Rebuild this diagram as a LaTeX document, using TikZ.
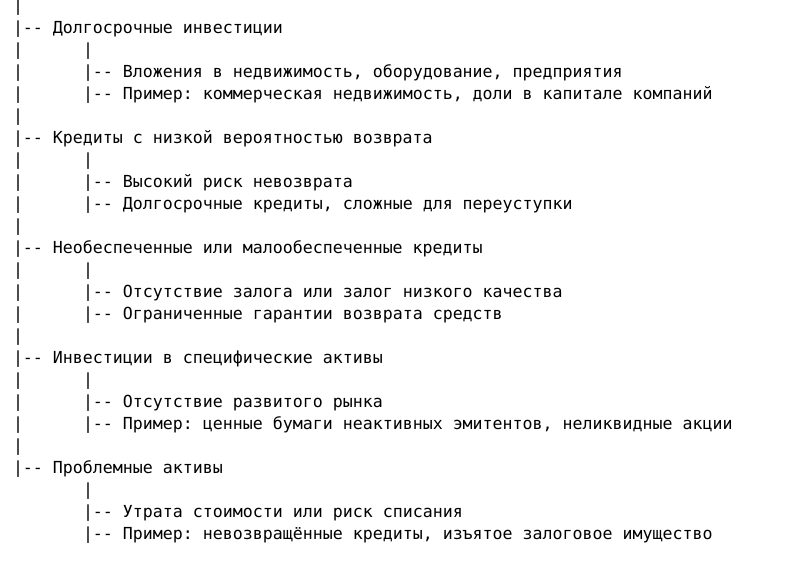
\documentclass[tikz,border=0pt]{standalone}
\usepackage{fontspec}
\setmonofont{DejaVu Sans Mono}
\begin{document}
\begin{tikzpicture}[x=1pt,y=-1pt,
  txt/.style={inner sep=0pt, outer sep=0pt, anchor=base west,
    font=\ttfamily\fontsize{16.6}{22}\selectfont\frenchspacing, text=black}]
\fill[white] (0,0) rectangle (797,567);
\useasboundingbox (0,0) rectangle (797,567);
% main vertical bars (column 0)
\foreach \i in {0,2,3,4,5,7,8,9,10,12,13,14,15,17,18,19,20}
  \node[txt] (m\i) at (13,{11.5+22*\i}) {|};
% sub vertical bars (column 7)
\foreach \i in {2,7,12,17,22}
  \node[txt] (s\i) at (83,{11.5+22*\i}) {|};
% headers
\node[txt] (h1)  at (13,{11.5+22*1})  {|-- Долгосрочные инвестиции};
\node[txt] (h6)  at (13,{11.5+22*6})  {|-- Кредиты с низкой вероятностью возврата};
\node[txt] (h11) at (13,{11.5+22*11}) {|-- Необеспеченные или малообеспеченные кредиты};
\node[txt] (h16) at (13,{11.5+22*16}) {|-- Инвестиции в специфические активы};
\node[txt] (h21) at (13,{11.5+22*21}) {|-- Проблемные активы};
% sub items
\node[txt] (i3)  at (83,{11.5+22*3})  {|-- Вложения в недвижимость, оборудование, предприятия};
\node[txt] (i4)  at (83,{11.5+22*4})  {|-- Пример: коммерческая недвижимость, доли в капитале компаний};
\node[txt] (i8)  at (83,{11.5+22*8})  {|-- Высокий риск невозврата};
\node[txt] (i9)  at (83,{11.5+22*9})  {|-- Долгосрочные кредиты, сложные для переуступки};
\node[txt] (i13) at (83,{11.5+22*13}) {|-- Отсутствие залога или залог низкого качества};
\node[txt] (i14) at (83,{11.5+22*14}) {|-- Ограниченные гарантии возврата средств};
\node[txt] (i18) at (83,{11.5+22*18}) {|-- Отсутствие развитого рынка};
\node[txt] (i19) at (83,{11.5+22*19}) {|-- Пример: ценные бумаги неактивных эмитентов, неликвидные акции};
\node[txt] (i23) at (83,{11.5+22*23}) {|-- Утрата стоимости или риск списания};
\node[txt] (i24) at (83,{11.5+22*24}) {|-- Пример: невозвращённые кредиты, изъятое залоговое имущество};
\end{tikzpicture}
\end{document}
